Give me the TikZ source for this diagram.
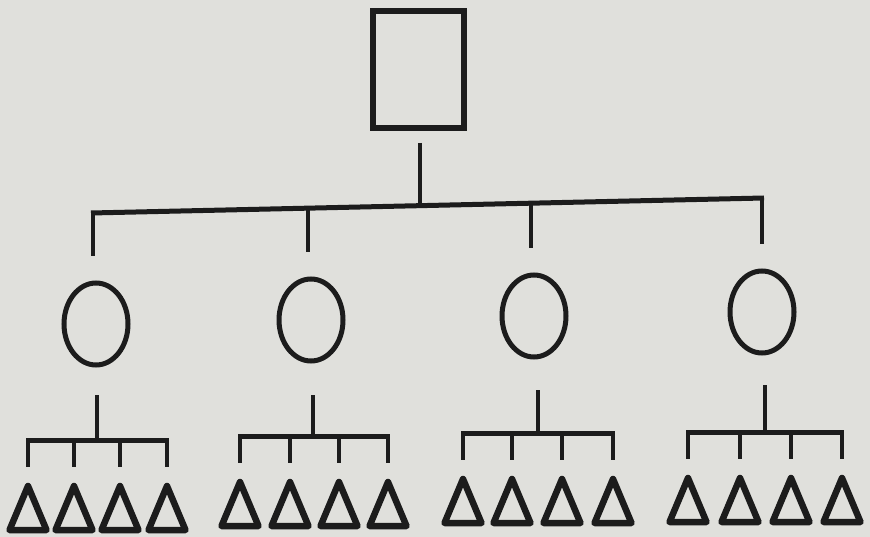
\documentclass[tikz,border=0pt]{standalone}
\usetikzlibrary{shapes.geometric}
\definecolor{paper}{RGB}{224,224,220}
\definecolor{ink}{RGB}{28,28,28}
\tikzset{
  rootbox/.style={draw=ink, line width=6pt, rectangle, minimum width=91pt, minimum height=117pt, inner sep=0pt},
  oval/.style={draw=ink, line width=5pt, ellipse, minimum width=64pt, minimum height=82pt, inner sep=0pt},
  bar/.style={draw=ink, line width=5pt},
  drop/.style={draw=ink, line width=4pt},
  tri/.style={draw=ink, line width=6.5pt, line join=round}
}
\begin{document}
\begin{tikzpicture}[x=1pt,y=-1pt]
\fill[paper] (0,0) rectangle (870,537);
\useasboundingbox (0,0) rectangle (870,537);
% root
\node[rootbox] (root) at (418.5,69.5) {};
\coordinate (rs) at (420,143);
\coordinate (rj) at (420,205.5);
\draw[drop] (rs) -- (rj);
% top bar (slightly tilted as in the photo)
\coordinate (b1) at (93,213);
\coordinate (b2) at (308,208.2);
\coordinate (b3) at (531,203.2);
\coordinate (b4) at (762,198);
\draw[bar] ([xshift=-2pt]b1) -- ([xshift=2pt]b4);
% circles
\node[oval] (c1) at (96,324) {};
\node[oval] (c2) at (311,320) {};
\node[oval] (c3) at (534,316) {};
\node[oval] (c4) at (762,312) {};
\draw[drop] (b1) -- ([yshift=24pt]c1.north -| b1);
\draw[drop] (b2) -- ([yshift=24pt]c2.north -| b2);
\draw[drop] (b3) -- ([yshift=24pt]c3.north -| b3);
\draw[drop] (b4) -- ([yshift=24pt]c4.north -| b4);
% group stems and sub-bars
\foreach \g/\sx/\st/\sb/\xa/\xb/\xc/\xd in {
  1/97/395/440/28/74/120/167,
  2/313/395/436/240/290/339/388,
  3/538/390/433/463/512/562/613,
  4/765/385/432/688/740/791/842}{
  \coordinate (s\g) at (\sx,\st);
  \coordinate (j\g) at (\sx,\sb);
  \draw[drop] (s\g) -- (j\g);
  \coordinate (g\g a) at (\xa,\sb);
  \coordinate (g\g d) at (\xd,\sb);
  \draw[bar] ([xshift=-2pt]g\g a) -- ([xshift=2pt]g\g d);
  \foreach \k/\xx in {a/\xa,b/\xb,c/\xc,d/\xd}{
    \coordinate (q\g\k) at (\xx,\sb);
    \coordinate (t\g\k) at (\xx,\sb+46);
    \draw[drop] (q\g\k) -- ([yshift=19pt]t\g\k);
    \draw[tri] (t\g\k) -- ++(18.5,44) -- ++(-37,0) -- cycle;
  }
}
\end{tikzpicture}
\end{document}
